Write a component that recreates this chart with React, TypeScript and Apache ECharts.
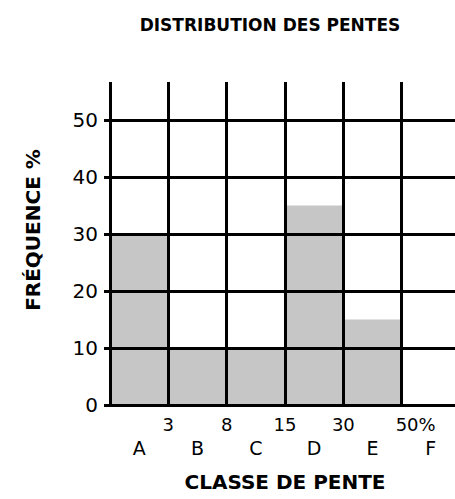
import React, { useEffect, useRef } from "react";
import * as echarts from "echarts";

const categories = ["A", "B", "C", "D", "E", "F"];
const frequencies = [30, 10, 10, 35, 15, 0];
const boundaryLabels = ["", "3", "8", "15", "30", "50%", ""];
const yTicks = { min: 0, max: 50, interval: 10 };

const FONT = "DejaVu Sans";
const LINE = { color: "#000", width: 3 };

export default function App() {
  const ref = useRef<HTMLDivElement>(null);
  useEffect(() => {
    if (!ref.current) return;
    const chart = echarts.init(ref.current, undefined, { renderer: "svg" });
    chart.setOption({
      animation: false,
      backgroundColor: "#fff",
      grid: [
        { left: 110, width: 350, top: 120, height: 285, outerBoundsMode: "none", containLabel: false },
        { left: 110, width: 350, top: 82, height: 38, outerBoundsMode: "none", containLabel: false },
      ],
      xAxis: [
        {
          type: "category",
          gridIndex: 0,
          data: categories,
          position: "bottom",
          boundaryGap: true,
          z: 3,
          axisLine: { show: true, lineStyle: LINE },
          axisTick: { show: false },
          axisLabel: {
            margin: 33,
            fontFamily: FONT,
            fontSize: 19,
            color: "#000",
            interval: 0,
          },
          splitLine: { show: true, interval: 0, lineStyle: LINE },
        },
        {
          type: "value",
          gridIndex: 0,
          position: "bottom",
          min: 0,
          max: 6,
          interval: 1,
          z: 3,
          axisLine: { show: false },
          axisTick: { show: false },
          splitLine: { show: false },
          axisLabel: {
            margin: 10,
            fontFamily: FONT,
            fontSize: 18,
            color: "#000",
            showMinLabel: true,
            showMaxLabel: true,
            formatter: (v: number) => {
              const s = boundaryLabels[Math.round(v)] ?? "";
              if (s.endsWith("%")) return "{p|" + s + "}";
              return s;
            },
            rich: {
              p: {
                fontFamily: FONT,
                fontSize: 18,
                color: "#000",
                padding: [0, 0, 0, 28],
              },
            },
          },
        },
        {
          type: "category",
          gridIndex: 1,
          data: categories,
          boundaryGap: true,
          z: 3,
          axisLine: { show: false },
          axisTick: { show: false },
          axisLabel: { show: false },
          splitLine: { show: true, interval: 0, lineStyle: LINE },
        },
      ],
      yAxis: [
        {
          type: "value",
          gridIndex: 0,
          min: yTicks.min,
          max: yTicks.max,
          interval: yTicks.interval,
          z: 3,
          axisLine: { show: true, lineStyle: LINE },
          axisTick: { show: true, length: 6, lineStyle: LINE },
          axisLabel: {
            margin: 12,
            fontFamily: FONT,
            fontSize: 20,
            color: "#000",
          },
          splitLine: { show: true, lineStyle: LINE },
        },
        {
          type: "value",
          gridIndex: 1,
          show: false,
          splitLine: { show: false },
        },
      ],
      title: {
        text: "DISTRIBUTION DES PENTES",
        left: 265,
        top: 11,
        textAlign: "center",
        textStyle: {
          fontFamily: FONT,
          fontWeight: "bold",
          fontSize: 17,
          color: "#000",
        },
      },
      graphic: [
        {
          type: "text",
          x: 33,
          y: 230,
          rotation: Math.PI / 2,
          style: {
            text: "FRÉQUENCE %",
            fontFamily: FONT,
            fontWeight: "bold",
            fontSize: 20,
            fill: "#000",
            align: "center",
            verticalAlign: "middle",
          },
        },
        {
          type: "text",
          x: 285,
          y: 482,
          style: {
            text: "CLASSE DE PENTE",
            fontFamily: FONT,
            fontWeight: "bold",
            fontSize: 20,
            fill: "#000",
            align: "center",
            verticalAlign: "middle",
          },
        },
      ],
      series: [
        {
          type: "bar",
          xAxisIndex: 0,
          yAxisIndex: 0,
          data: frequencies,
          barWidth: "100%",
          barGap: "0%",
          z: 1,
          itemStyle: { color: "#c6c6c6" },
        },
      ],
    });
    return () => chart.dispose();
  }, []);
  return (
    <div
      ref={ref}
      style={{ position: "fixed", left: 0, top: 0, width: 455, height: 499 }}
    />
  );
}
